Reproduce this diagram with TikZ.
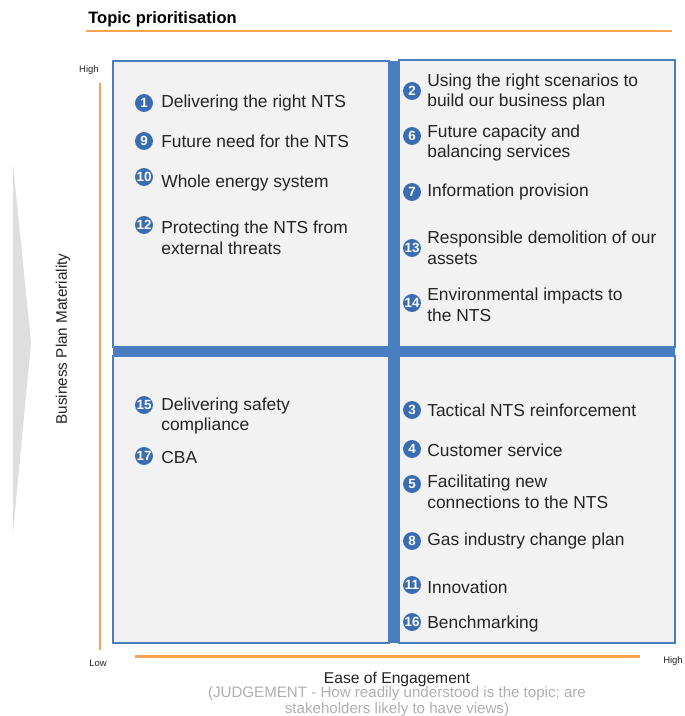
\documentclass[tikz,border=0pt]{standalone}
\usepackage{fontspec}
\setmainfont{Liberation Sans}
\usetikzlibrary{positioning}
\definecolor{GridBlue}{RGB}{74,125,191}
\definecolor{DotBlue}{RGB}{58,108,178}
\definecolor{BoxGray}{RGB}{242,242,242}
\definecolor{AxisOrange}{RGB}{249,163,76}
\definecolor{NoteGray}{RGB}{175,175,175}
\definecolor{InkGray}{RGB}{36,36,36}
\definecolor{ChevGray}{RGB}{222,222,222}
\tikzset{
  quad/.style={draw=GridBlue,line width=.8pt,fill=BoxGray},
  num/.style={circle,fill=DotBlue,text=white,inner sep=0pt,minimum size=10.2pt,font=\fontsize{7.6}{8}\selectfont\bfseries},
  topic/.style={anchor=west,inner sep=0pt,align=left,text=InkGray,font=\fontsize{9.9}{11.9}\selectfont},
  axis/.style={AxisOrange,line width=1.7pt},
  tick/.style={inner sep=0pt,text=InkGray,font=\fontsize{5.4}{6}\selectfont}
}
\begin{document}
\begin{tikzpicture}[x=0.02cm,y=-0.02cm]
\useasboundingbox (0,0) rectangle (685,716);
% heading
\node[anchor=west,inner sep=0pt,font=\fontsize{9.4}{11}\selectfont\bfseries] (title) at (88,19) {Topic prioritisation};
\draw[axis,line width=1.2pt] (86,31)--(672,31);
% grey chevron on the left
\fill[ChevGray] (13,164)--(31,343)--(13,533)--cycle;
% the four quadrants and the blue cross
\draw[quad] (113,61) rectangle (389,347);\draw[quad] (399,60) rectangle (675,347);
\draw[quad] (113,356) rectangle (389,643);\draw[quad] (399,356) rectangle (675,643);
\fill[GridBlue] (389,61) rectangle (399,643);\fill[GridBlue] (113,347) rectangle (675,356);
% axes
\draw[axis] (100,83)--(100,650);\draw[axis] (135,656)--(640,656);
\node[tick] (yhigh) at (89,70) {High};\node[tick] (xlow) at (98,663) {Low};\node[tick] (xhigh) at (673,661) {High};
\node[rotate=90,inner sep=0pt,text=InkGray,font=\fontsize{8.7}{10}\selectfont] (ylab) at (63,339) {Business Plan Materiality};
\node[inner sep=0pt,text=InkGray,font=\fontsize{8.9}{10}\selectfont] (xlab) at (397,679) {Ease of Engagement};
\node[inner sep=0pt,align=center,text=NoteGray,font=\fontsize{8.6}{7.9}\selectfont] (xnote) at (397,702) {(JUDGEMENT - How readily understood is the topic; are\\stakeholders likely to have views)};
% high materiality, hard to engage
\node[num] (n1) at (144,103) {1};\node[topic] (t1) at (161,103) {Delivering the right NTS};
\node[num] (n9) at (144,141) {9};\node[topic] (t9) at (161,141) {Future need for the NTS};
\node[num] (n10) at (144,177) {10};\node[topic] (t10) at (161,183) {Whole energy system};
\node[num] (n12) at (144,225) {12};\node[topic] (t12) at (161,237.5) {Protecting the NTS from\\external threats};
% high materiality, easy to engage
\node[num] (n2) at (412,91) {2};\node[topic] (t2) at (427,92) {Using the right scenarios to\\build our business plan};
\node[num] (n6) at (412,136) {6};\node[topic] (t6) at (427,143) {Future capacity and\\balancing services};
\node[num] (n7) at (412,192) {7};\node[topic] (t7) at (427,192) {Information provision};
\node[num] (n13) at (412,248) {13};\node[topic] (t13) at (427,247.5) {Responsible demolition of our\\assets};
\node[num] (n14) at (412,303) {14};\node[topic] (t14) at (427,304.5) {Environmental impacts to\\the NTS};
% low materiality, hard to engage
\node[num] (n15) at (144,405) {15};\node[topic] (t15) at (161,416) {Delivering safety\\compliance};
\node[num] (n17) at (144,456) {17};\node[topic] (t17) at (161,458) {CBA};
% low materiality, easy to engage
\node[num] (n3) at (412,410) {3};\node[topic] (t3) at (427,410) {Tactical NTS reinforcement};
\node[num] (n4) at (412,449) {4};\node[topic] (t4) at (427,450) {Customer service};
\node[num] (n5) at (412,484) {5};\node[topic] (t5) at (427,492) {Facilitating new\\connections to the NTS};
\node[num] (n8) at (412,541) {8};\node[topic] (t8) at (427,541) {Gas industry change plan};
\node[num] (n11) at (412,585) {11};\node[topic] (t11) at (427,587) {Innovation};
\node[num] (n16) at (412,622) {16};\node[topic] (t16) at (427,624) {Benchmarking};
\end{tikzpicture}
\end{document}
